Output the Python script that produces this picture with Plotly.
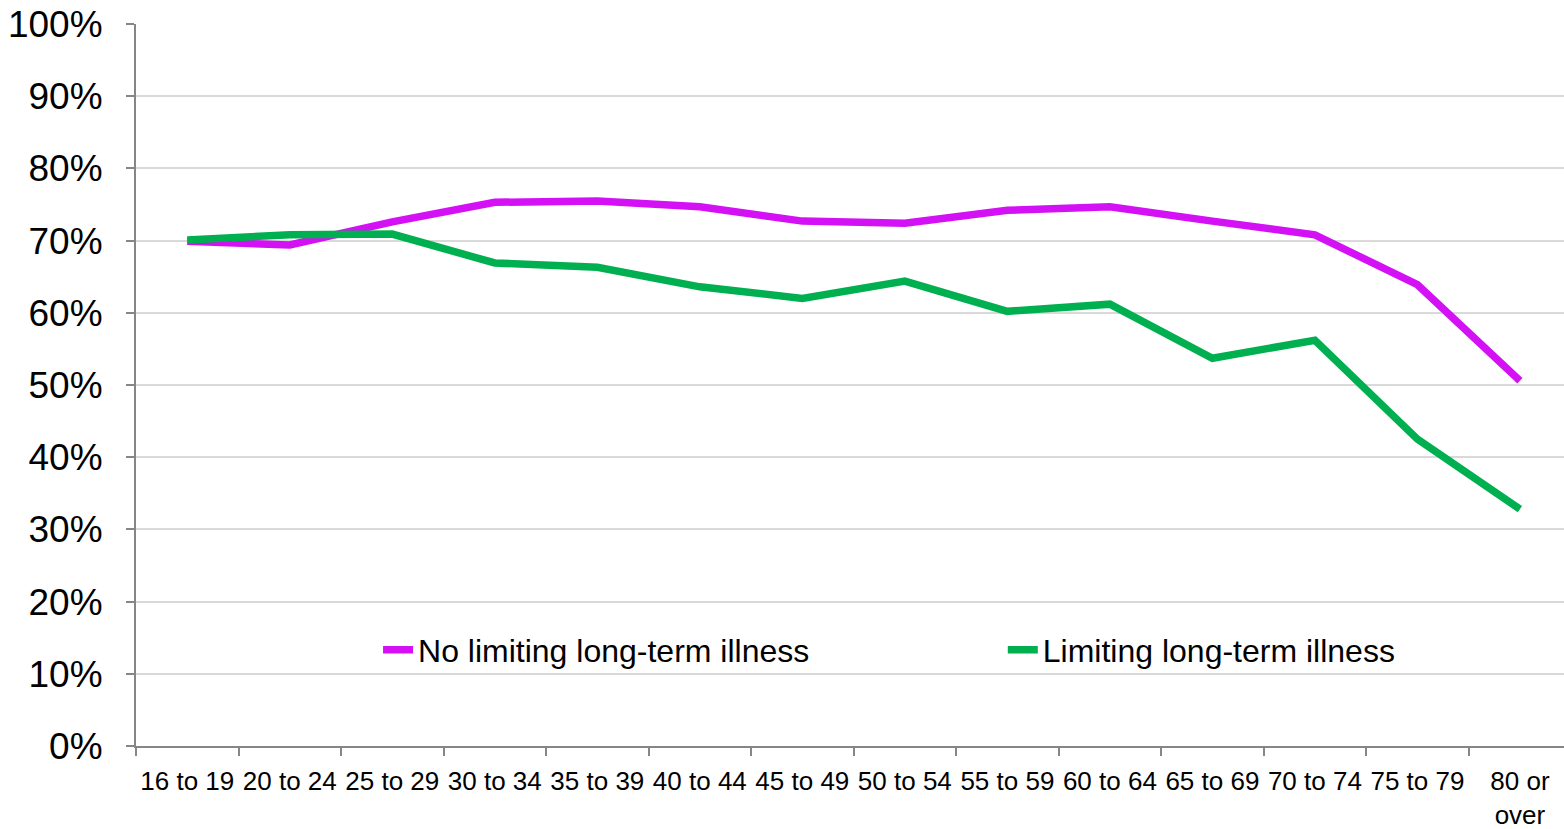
import plotly.graph_objects as go

categories = ["16 to 19", "20 to 24", "25 to 29", "30 to 34", "35 to 39", "40 to 44",
              "45 to 49", "50 to 54", "55 to 59", "60 to 64", "65 to 69", "70 to 74",
              "75 to 79", "80 or<br>over"]
no_limiting = [0.699, 0.694, 0.726, 0.753, 0.755, 0.747, 0.727, 0.724, 0.742, 0.747,
               0.727, 0.708, 0.639, 0.506]
limiting = [0.701, 0.708, 0.709, 0.669, 0.663, 0.636, 0.620, 0.644, 0.602, 0.612,
            0.537, 0.562, 0.425, 0.328]

FONT = "Liberation Sans, Arial, sans-serif"

fig = go.Figure()
fig.add_trace(go.Scatter(x=categories, y=no_limiting, mode="lines",
                         name="No limiting long-term illness", legend="legend",
                         line=dict(color="#D410F4", width=7.5)))
fig.add_trace(go.Scatter(x=categories, y=limiting, mode="lines",
                         name="Limiting long-term illness", legend="legend2",
                         line=dict(color="#00B050", width=7.5)))

legend_common = dict(orientation="h", y=0.133, xanchor="left", yanchor="middle",
                     font=dict(size=32, family=FONT, color="black"),
                     bgcolor="rgba(0,0,0,0)", borderwidth=0)

fig.update_layout(
    width=1564, height=829,
    margin=dict(l=136, r=0, t=24, b=83, autoexpand=False),
    paper_bgcolor="white", plot_bgcolor="white",
    font=dict(family=FONT, color="black"),
    showlegend=True,
    legend=dict(x=0.1695, **legend_common),
    legend2=dict(x=0.607, **legend_common),
    xaxis=dict(type="category", tickson="boundaries", ticks="outside", ticklen=8,
               tickcolor="#868686", tickwidth=2, showline=True, linecolor="#868686",
               linewidth=2, showgrid=False, tickfont=dict(size=26, family=FONT),
               tickangle=0, range=[-0.5, 13.43], automargin=False,
               ticklabelstandoff=11),
    yaxis=dict(range=[0, 1], dtick=0.1, tickformat=".0%", ticks="outside", ticklen=8,
               tickcolor="#868686", tickwidth=2, showline=True, linecolor="#868686",
               linewidth=2, gridcolor="#D9D9D9", gridwidth=2, zeroline=False,
               tickfont=dict(size=37, family=FONT), ticklabelstandoff=16,
               automargin=False),
)

# remove the default page margin so the figure fills the window exactly
fig.write_html("out.html",
               config={"displayModeBar": False},
               post_script="document.body.style.margin='0px';"
                           "document.body.style.overflow='hidden';")
